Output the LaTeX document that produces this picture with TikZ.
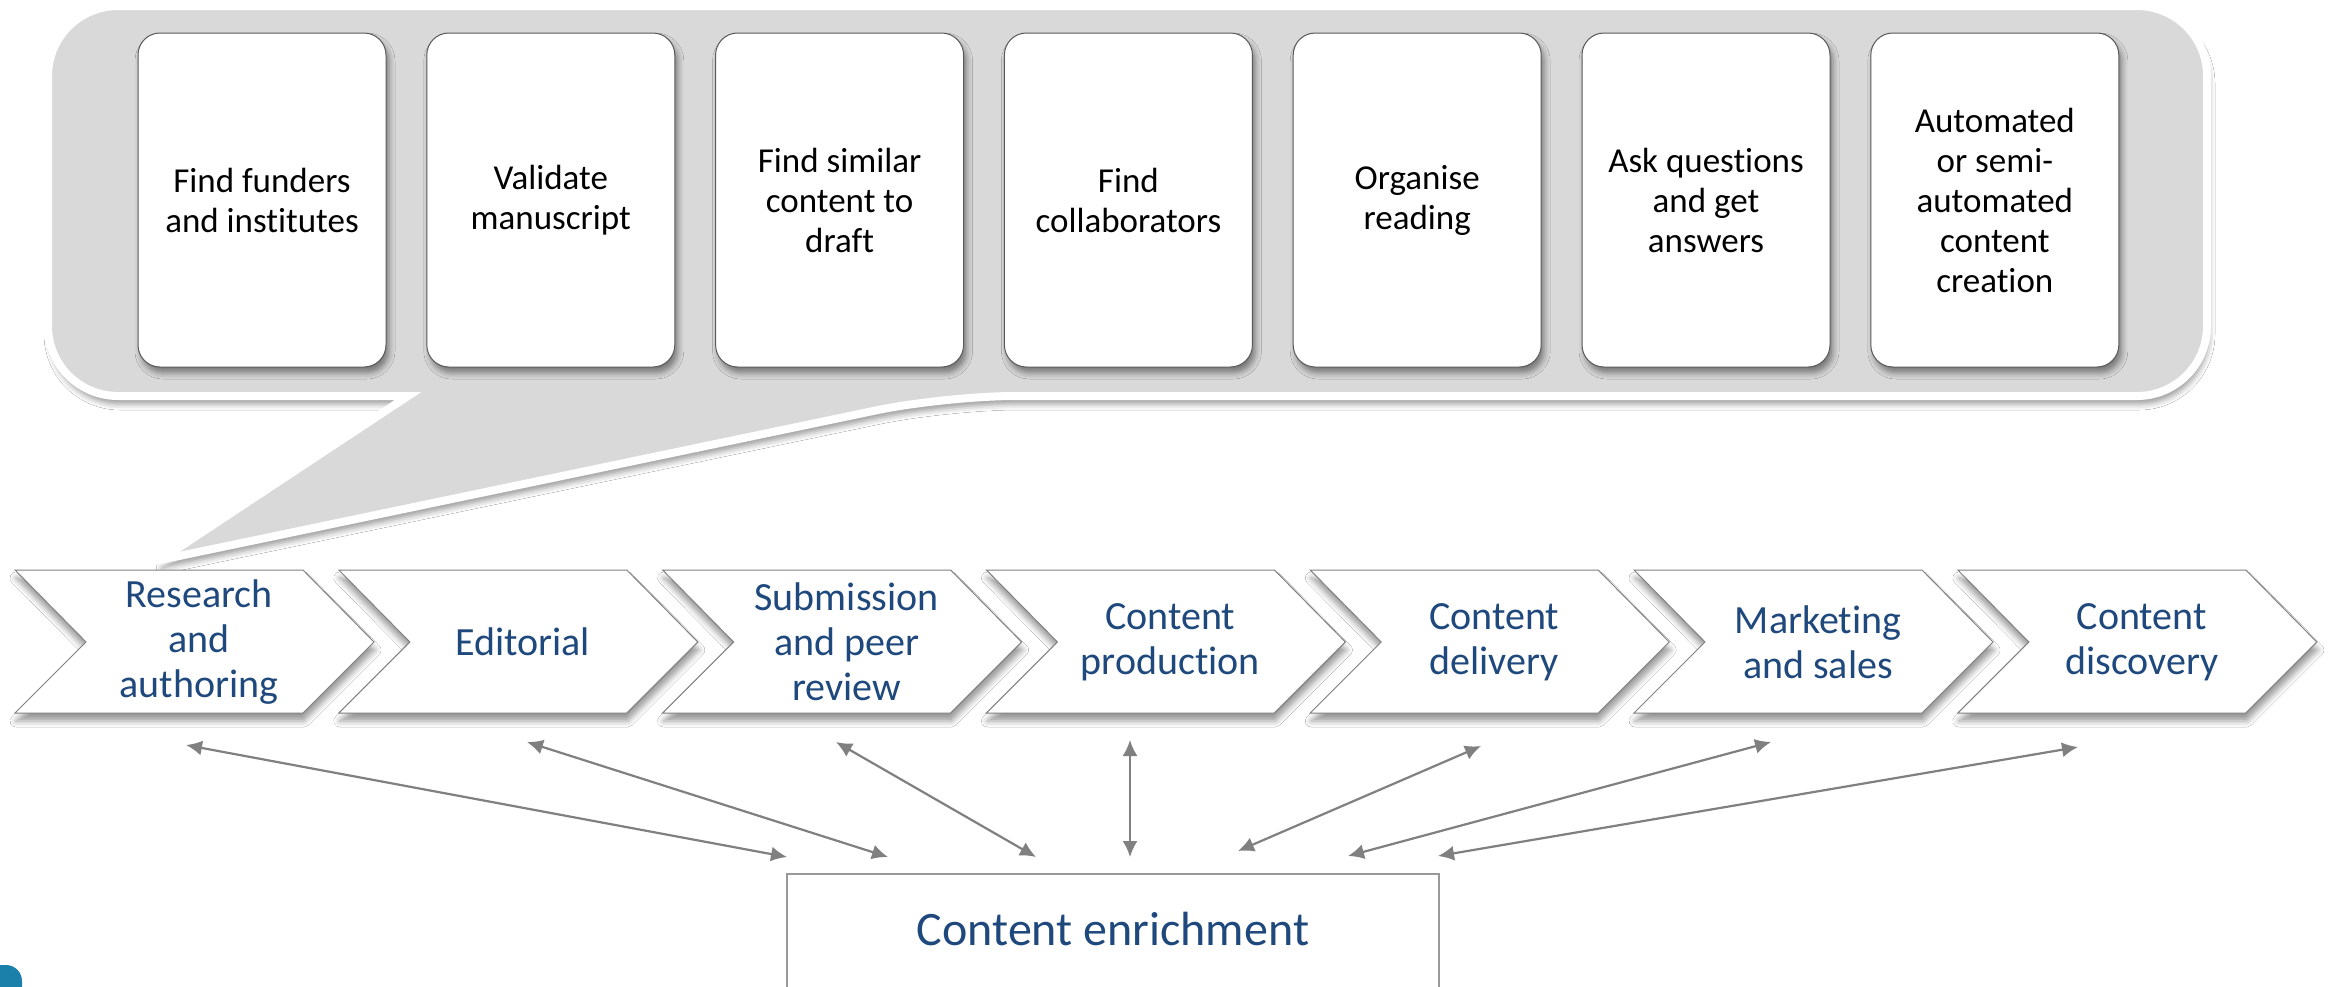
\documentclass[tikz,border=0pt]{standalone}
\usepackage{fontspec}
\setmainfont[Ligatures={NoCommon}]{Carlito}
\usetikzlibrary{arrows.meta,shadows.blur}
\definecolor{txtblue}{HTML}{1F497D}
\definecolor{calloutgray}{HTML}{D9D9D9}
\definecolor{arrgray}{HTML}{808080}
\definecolor{cornerblue}{HTML}{1B80AA}
\begin{document}
\begin{tikzpicture}[x=0.5pt,y=-0.5pt,
  card/.style={draw=black!65, line width=0.5pt, fill=white, rounded corners=11pt,
    minimum width=124pt, minimum height=167pt, inner sep=0pt, align=center,
    font=\fontsize{17.5}{20}\selectfont,
    blur shadow={shadow xshift=1.5pt, shadow yshift=-3pt, shadow blur radius=3pt, shadow opacity=45}},
  chev/.style={draw=black!50, line width=0.5pt, fill=white,
    blur shadow={shadow xshift=0.5pt, shadow yshift=-4pt, shadow blur radius=3pt, shadow opacity=40}},
  chevtext/.style={align=center, text=txtblue, font=\fontsize{20}{22.5}\selectfont, inner sep=0pt},
  callout/.style={fill=calloutgray, draw=white, line width=4pt,
    blur shadow={shadow xshift=1pt, shadow yshift=-4pt, shadow blur radius=3pt, shadow opacity=40}},
  cebox/.style={draw=black!40, line width=0.8pt, fill=white, inner sep=0pt,
    minimum width=326pt, text height=36pt, text depth=30pt,
    text=txtblue, font=\fontsize{24}{28}\selectfont},
  link/.style={draw=arrgray, line width=1.1pt,
    {Latex[length=8pt,width=7.5pt]}-{Latex[length=8pt,width=7.5pt]}}
]
\useasboundingbox (0,0) rectangle (2328,986);
\clip (0,0) rectangle (2328,986);
\fill[white] (0,0) rectangle (2328,986);

% callout
\path[callout] (48,200) [rounded corners=35pt] -- (48,6) -- (2207,6) -- (2207,396) -- (945,396)
   [sharp corners] -- (160,560) -- (408,396) [rounded corners=35pt] -- (48,396) -- cycle;

% cards
\foreach \i/\txt in {0/{Find funders\\and institutes}, 1/{Validate\\manuscript},
    2/{Find similar\\content to\\draft}, 3/{Find\\collaborators}, 4/{Organise\\reading},
    5/{Ask questions\\and get\\answers}, 6/{Automated\\or semi-\\automated\\content\\creation}} {
  \node[card] (card\i) at (262+288.8*\i,200) {\txt};
}

% chevrons
\foreach \i/\txt in {0/{Research\\and\\authoring}, 1/{Editorial}, 2/{Submission\\and peer\\review},
    3/{Content\\production}, 4/{Content\\delivery}, 5/{Marketing\\and sales}, 6/{Content\\discovery}} {
  \pgfmathsetmacro\L{15+323.8*\i}
  \draw[chev] (\L,570) -- ++(288,0) -- ++(71,72) -- ++(-71,71) -- ++(-288,0) -- ++(71,-71) -- cycle;
  \node[chevtext] (chev\i) at (\L+184,642) {\txt};
}

% content enrichment
\node[cebox, anchor=north] (ce) at (1113,873) {Content enrichment};

% corner shape
\fill[cornerblue, rounded corners=8pt] (-40,965) rectangle (22,1030);

% arrows
\coordinate (t1) at (186,745);  \coordinate (b1) at (787,857);
\coordinate (t2) at (527,742);  \coordinate (b2) at (888,857);
\coordinate (t3) at (836,742);  \coordinate (b3) at (1036,857);
\coordinate (t4) at (1130,740); \coordinate (b4) at (1130,857);
\coordinate (t5) at (1481,746); \coordinate (b5) at (1238,851);
\coordinate (t6) at (1771,742); \coordinate (b6) at (1348,856);
\coordinate (t7) at (2078,747); \coordinate (b7) at (1438,856);
\foreach \k in {1,...,7} { \draw[link] (t\k) -- (b\k); }
\end{tikzpicture}
\end{document}
